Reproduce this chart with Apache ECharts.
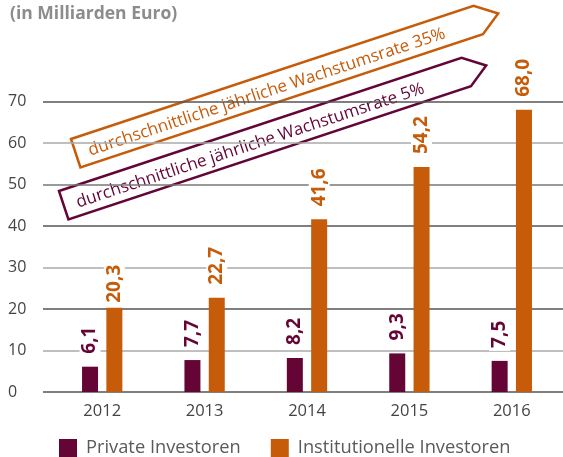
<!DOCTYPE html>
<html>
<head>
<meta charset="utf-8">
<script src="https://cdn.jsdelivr.net/npm/echarts@6/dist/echarts.min.js"></script>
<style>html,body{margin:0;padding:0;background:#fff;}#c{width:563px;height:457px;}</style>
</head>
<body>
<div id="c"></div>
<script>
const categories = ['2012', '2013', '2014', '2015', '2016'];
const privateValues = [6.1, 7.7, 8.2, 9.3, 7.5];
const institutionalValues = [20.3, 22.7, 41.6, 54.2, 68.0];
const seriesNames = ['Private Investoren', 'Institutionelle Investoren'];
const yMin = 0, yMax = 70, yStep = 10;
const titleText = '(in Milliarden Euro)';
const noteInstitutional = 'durchschnittliche jährliche Wachstumsrate 35%';
const notePrivate = 'durchschnittliche jährliche Wachstumsrate 5%';

const PURPLE = '#640536';
const ORANGE = '#c65c0a';
const FONT = '"Open Sans", "Noto Sans", sans-serif';

const fmt = v => v.toFixed(1).replace('.', ',');

function barLabel(color) {
  return {
    show: true, position: 'top', rotate: 90, align: 'left', verticalAlign: 'middle',
    distance: 10, formatter: p => fmt(p.value), color: color,
    fontFamily: FONT, fontWeight: 'bold', fontSize: 19,
    backgroundColor: '#fff', padding: [2, 3, 0, 3]
  };
}

const ANG = Math.atan2(133, 402);
function arrowGroup(x, y, color, text) {
  const L = 424, H = 30, T = 21;
  return {
    type: 'group', x: x, y: y, rotation: ANG,
    children: [
      { type: 'polygon', shape: { points: [[0, 0], [L, 0], [L + T, H / 2], [L, H], [0, H]] },
        style: { fill: '#fff', stroke: color, lineWidth: 2.5 } },
      { type: 'text', x: 13, y: H / 2 + 2,
        style: { text: text, fill: color, font: '17px ' + FONT, textAlign: 'left', textVerticalAlign: 'middle', verticalAlign: 'middle' } }
    ]
  };
}

const chart = echarts.init(document.getElementById('c'), null, { renderer: 'canvas' });
chart.setOption({
  animation: false,
  backgroundColor: '#fff',
  title: { text: titleText, left: 5, top: 0, textStyle: { fontFamily: FONT, fontWeight: 'bold', fontSize: 17.5, color: '#8c8c8c' } },
  legend: {
    left: 59, top: 439, padding: 0, itemWidth: 18, itemHeight: 18, itemGap: 30, icon: 'rect',
    textStyle: { fontFamily: FONT, fontSize: 18.3, color: '#5a5a5a', padding: [0, 0, 0, 4] },
    data: seriesNames
  },
  grid: [
    { left: 43, right: 0, top: 101.5, bottom: 65 },
    { left: 51, right: -1.4, top: 101.5, bottom: 65 }
  ],
  xAxis: [
    { type: 'category', gridIndex: 0, data: categories, show: false },
    { type: 'category', gridIndex: 1, data: categories,
      axisLine: { show: false }, axisTick: { show: false },
      axisLabel: { margin: 11, fontFamily: FONT, fontSize: 16.5, color: '#444' } }
  ],
  yAxis: [
    { type: 'value', gridIndex: 0, min: yMin, max: yMax, interval: yStep,
      axisLine: { show: false }, axisTick: { show: false },
      axisLabel: { align: 'left', margin: 35, fontFamily: FONT, fontSize: 16, color: '#444' },
      splitLine: { show: true, lineStyle: { width: 1.5, color: ['#555', '#aaa', '#555', '#aaa', '#555', '#777', '#aaa', '#555'] } } },
    { type: 'value', gridIndex: 1, min: yMin, max: yMax, interval: yStep, show: false, splitLine: { show: false } }
  ],
  series: [
    { name: seriesNames[0], type: 'bar', xAxisIndex: 1, yAxisIndex: 1, data: privateValues,
      barWidth: 16, barGap: '52%', itemStyle: { color: PURPLE }, label: barLabel(PURPLE) },
    { name: seriesNames[1], type: 'bar', xAxisIndex: 1, yAxisIndex: 1,
      data: institutionalValues.map((v, i) => i === 0 ? { value: v, label: { distance: 2 } } : v),
      barWidth: 16, barGap: '52%', itemStyle: { color: ORANGE }, label: barLabel(ORANGE) }
  ],
  graphic: [
    arrowGroup(71, 139, ORANGE, noteInstitutional),
    arrowGroup(59, 191, PURPLE, notePrivate)
  ]
});
</script>
</body>
</html>
